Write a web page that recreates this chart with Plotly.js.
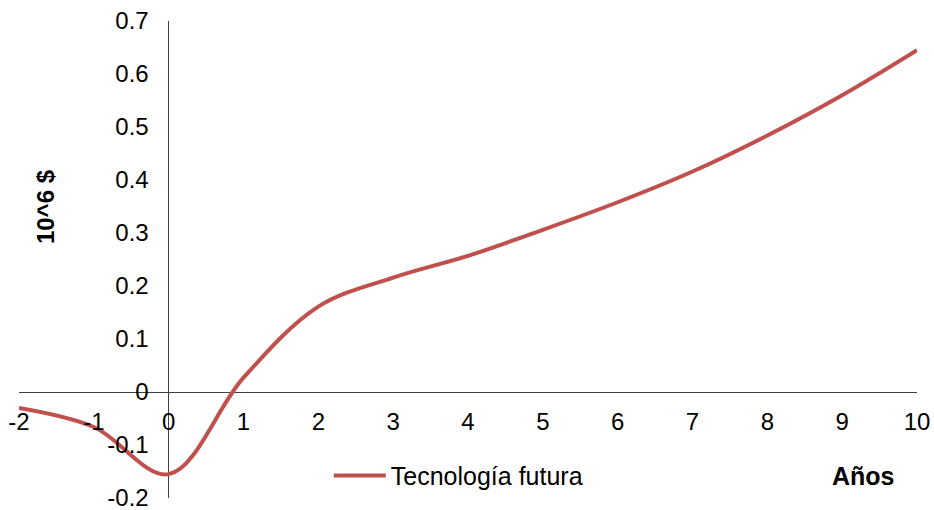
<!DOCTYPE html>
<html>
<head>
<meta charset="utf-8">
<script src="https://cdn.plot.ly/plotly-3.0.1.min.js"></script>
<style>
  html, body { margin: 0; padding: 0; background: #ffffff; }
  #chart { width: 934px; height: 510px; }
</style>
</head>
<body>
<div id="chart"></div>
<script>
// Net value of the future technology over time (millions of dollars)
const years = [-2, -1, 0, 1, 2, 3, 4, 5, 6, 7, 8, 9, 10];
const valueFuture = [-0.030, -0.066, -0.155, 0.027, 0.161, 0.216, 0.257, 0.306, 0.358, 0.416, 0.484, 0.560, 0.645];

const xTickVals = [-2, -1, 0, 1, 2, 3, 4, 5, 6, 7, 8, 9, 10];
const xTickText = ['-2', '-1', '0', '1', '2', '3', '4', '5', '6', '7', '8', '9', '10'];
const yTickVals = [-0.2, -0.1, 0, 0.1, 0.2, 0.3, 0.4, 0.5, 0.6, 0.7];
const yTickText = ['-0.2', '-0.1', '0', '0.1', '0.2', '0.3', '0.4', '0.5', '0.6', '0.7'];

const seriesName = 'Tecnología futura';
const xTitle = 'Años';
const yTitle = '10^6 $';

const xRange = [-2, 10];
const yRange = [-0.2, 0.7];

const FONT = 'Arial, "Liberation Sans", sans-serif';
const AXIS_COLOR = '#404040';

// axes cross at the origin
const xAxisPos = (0 - yRange[0]) / (yRange[1] - yRange[0]);
const yAxisPos = (0 - xRange[0]) / (xRange[1] - xRange[0]);

const trace = {
  x: years,
  y: valueFuture,
  type: 'scatter',
  mode: 'lines',
  name: seriesName,
  line: { color: '#C0504D', width: 4, shape: 'spline', smoothing: 1 },
  hoverinfo: 'x+y'
};

const layout = {
  width: 934,
  height: 510,
  margin: { l: 19, r: 17, t: 21, b: 12, pad: 0, autoexpand: false },
  paper_bgcolor: '#ffffff',
  plot_bgcolor: '#ffffff',
  font: { family: FONT, size: 24, color: '#000000' },
  showlegend: true,
  legend: {
    orientation: 'h',
    xref: 'container', yref: 'container',
    x: 0.352, y: 0.067,
    xanchor: 'left', yanchor: 'middle',
    itemwidth: 52,
    font: { family: FONT, size: 25, color: '#000000' },
    bgcolor: 'rgba(0,0,0,0)'
  },
  xaxis: {
    range: xRange,
    anchor: 'free',
    position: xAxisPos,
    showgrid: false,
    showline: false,
    zeroline: true,
    zerolinecolor: AXIS_COLOR,
    zerolinewidth: 1,
    ticks: '',
    tickmode: 'array',
    tickvals: xTickVals,
    ticktext: xTickText,
    ticklabelstandoff: 13,
    ticklabeloverflow: 'allow',
    tickfont: { family: FONT, size: 24, color: '#000000' },
    automargin: false,
    fixedrange: true
  },
  yaxis: {
    range: yRange,
    anchor: 'free',
    position: yAxisPos,
    showgrid: false,
    showline: false,
    zeroline: true,
    zerolinecolor: AXIS_COLOR,
    zerolinewidth: 1,
    ticks: '',
    tickmode: 'array',
    tickvals: yTickVals,
    ticktext: yTickText,
    ticklabelstandoff: 20,
    ticklabeloverflow: 'allow',
    tickfont: { family: FONT, size: 24, color: '#000000' },
    automargin: false,
    fixedrange: true
  },
  annotations: [
    {
      text: '<b>' + xTitle + '</b>',
      xref: 'paper', yref: 'paper',
      x: 0.94, y: 0.046,
      xanchor: 'center', yanchor: 'middle',
      showarrow: false,
      font: { family: FONT, size: 25, color: '#000000' }
    },
    {
      text: '<b>' + yTitle + '</b>',
      xref: 'paper', yref: 'paper',
      x: 0.029, y: 0.61,
      xanchor: 'center', yanchor: 'middle',
      textangle: -90,
      showarrow: false,
      font: { family: FONT, size: 24, color: '#000000' }
    }
  ]
};

Plotly.newPlot('chart', [trace], layout, { displayModeBar: false, staticPlot: true });
</script>
</body>
</html>
